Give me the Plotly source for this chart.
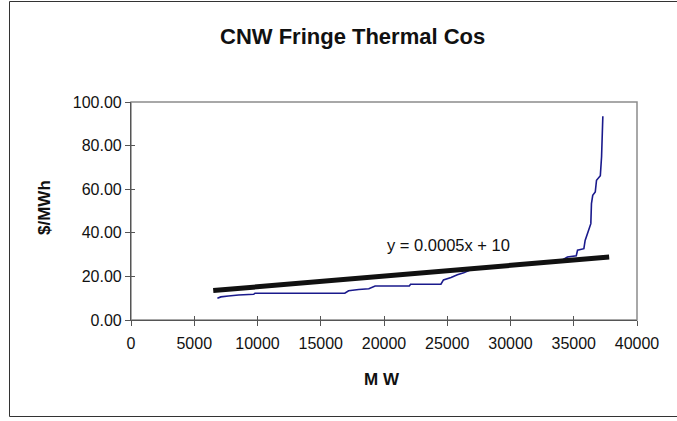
import plotly.graph_objects as go

# ---- data ----
mw = [6830, 7100, 7700, 8500, 9700, 9800, 16900, 17200, 18000, 18800, 19300, 22000,
      22100, 24500, 24700, 25300, 25800, 26300, 27000, 28500, 30000, 31500, 33000,
      34000, 34500, 35200, 35300, 35800, 35900, 36100, 36300, 36350, 36400, 36500,
      36700, 36800, 37100, 37200, 37300]
cost = [10.0, 10.6, 11.0, 11.5, 11.8, 12.3, 12.3, 13.4, 14.0, 14.3, 15.6, 15.6,
        16.4, 16.4, 18.4, 19.5, 20.8, 21.7, 23.4, 24.2, 25.0, 25.8, 26.5,
        27.2, 28.9, 29.5, 32.0, 32.7, 36.5, 40.4, 43.4, 44.2, 53.4, 57.2,
        58.7, 64.1, 66.2, 75.0, 93.5]
trend_x = [6500, 37800]
trend_y = [13.5, 28.9]
trend_label = "y = 0.0005x + 10"
title_text = "CNW Fringe Thermal Cos"
x_title = "M W"
y_title = "$/MWh"
x_ticks = [0, 5000, 10000, 15000, 20000, 25000, 30000, 35000, 40000]
y_ticks = [0, 20, 40, 60, 80, 100]

FONT = "Liberation Sans, Arial, sans-serif"
W, H = 677, 421
L, R, T, B = 131, 40, 102, 101

fig = go.Figure()
fig.add_trace(go.Scatter(x=mw, y=cost, mode="lines",
                         line=dict(color="#1a1a8c", width=1.6), showlegend=False,
                         hoverinfo="skip"))
fig.add_trace(go.Scatter(x=trend_x, y=trend_y, mode="lines",
                         line=dict(color="#111111", width=5), showlegend=False,
                         hoverinfo="skip"))
# invisible trace on overlay axes so inner ticks render
fig.add_trace(go.Scatter(x=[None], y=[None], xaxis="x2", yaxis="y2", showlegend=False))

axis_common = dict(showgrid=False, zeroline=False, showline=True, linecolor="#555555",
                   linewidth=1.2, ticks="outside", ticklen=5, tickcolor="#555555",
                   tickwidth=1.2, tickfont=dict(family=FONT, size=16, color="#111111"))

fig.update_layout(
    width=W, height=H, margin=dict(l=L, r=R, t=T, b=B),
    paper_bgcolor="white", plot_bgcolor="white",
    xaxis=dict(range=[0, 40000], tickmode="array", tickvals=x_ticks,
               ticktext=[str(v) for v in x_ticks], ticklabelstandoff=4, **axis_common),
    yaxis=dict(range=[0, 100], tickmode="array", tickvals=y_ticks,
               ticktext=[f"{v:.2f}" for v in y_ticks], **axis_common),
    xaxis2=dict(range=[0, 40000], overlaying="x", showgrid=False, zeroline=False,
                showline=False, ticks="inside", ticklen=4, tickcolor="#555555",
                tickwidth=1.2, tickvals=x_ticks, showticklabels=False, anchor="y2"),
    yaxis2=dict(range=[0, 100], overlaying="y", showgrid=False, zeroline=False,
                showline=False, ticks="inside", ticklen=4, tickcolor="#555555",
                tickwidth=1.2, tickvals=y_ticks, showticklabels=False, anchor="x2"),
    showlegend=False,
)

# plot-area frame (top/right in gray)
fig.add_shape(type="rect", xref="paper", yref="paper", x0=0, x1=1, y0=0, y1=1,
              line=dict(color="#8c8c8c", width=1.5), layer="below")
# outer chart border
pw, ph = W - L - R, H - T - B
fig.add_shape(type="rect", xref="paper", yref="paper",
              x0=(9.5 - L) / pw, x1=(W + 20 - L) / pw,
              y0=(H - B - 416.5) / ph, y1=(H - B - 1.5) / ph,
              line=dict(color="#333333", width=1))

annos = [
    dict(text=f"<b>{title_text}</b>", x=(352 - L) / pw, y=(H - B - 37) / ph,
         font=dict(family=FONT, size=22, color="#111111")),
    dict(text=f"<b>{y_title}</b>", x=(44 - L) / pw, y=(H - B - 208) / ph, textangle=-90,
         font=dict(family=FONT, size=17, color="#111111")),
    dict(text=f"<b>{x_title}</b>", x=(382 - L) / pw, y=(H - B - 379) / ph,
         font=dict(family=FONT, size=17, color="#111111")),
]
for a in annos:
    fig.add_annotation(xref="paper", yref="paper", showarrow=False,
                       xanchor="center", yanchor="middle", **a)
fig.add_annotation(text=trend_label, x=20100, y=34.3, xref="x", yref="y",
                   showarrow=False, xanchor="left", yanchor="middle",
                   font=dict(family=FONT, size=16.5, color="#111111"))

fig.write_html("out.html")
